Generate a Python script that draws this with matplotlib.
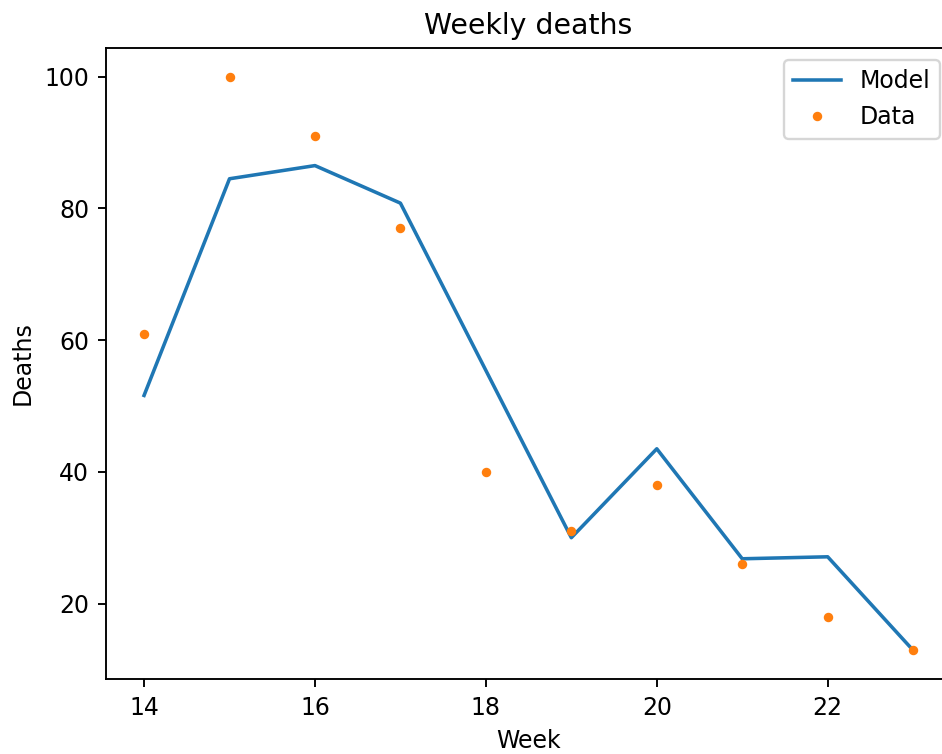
import matplotlib
matplotlib.use("Agg")
import matplotlib.pyplot as plt

# weekly counts
weeks = [14, 15, 16, 17, 18, 19, 20, 21, 22, 23]
model_deaths = [51.6, 84.5, 86.5, 80.8, 55.4, 30.0, 43.5, 26.8, 27.1, 12.9]
data_deaths = [61, 100, 91, 77, 40, 31, 38, 26, 18, 13]

DPI = 170
W, H = 942, 754
fig = plt.figure(figsize=(W / DPI, H / DPI), dpi=DPI)
# axes runs slightly past the right edge of the canvas
ax = fig.add_axes([105.6 / W, 75 / H, 846 / W, 631 / H])

ax.plot(weeks, model_deaths, label="Model")
ax.plot(weeks, data_deaths, ".", label="Data")

ax.set_title("Weekly deaths")
ax.set_xlabel("Week")
ax.set_ylabel("Deaths")
ax.legend()

fig.savefig("out.png", dpi=DPI)
